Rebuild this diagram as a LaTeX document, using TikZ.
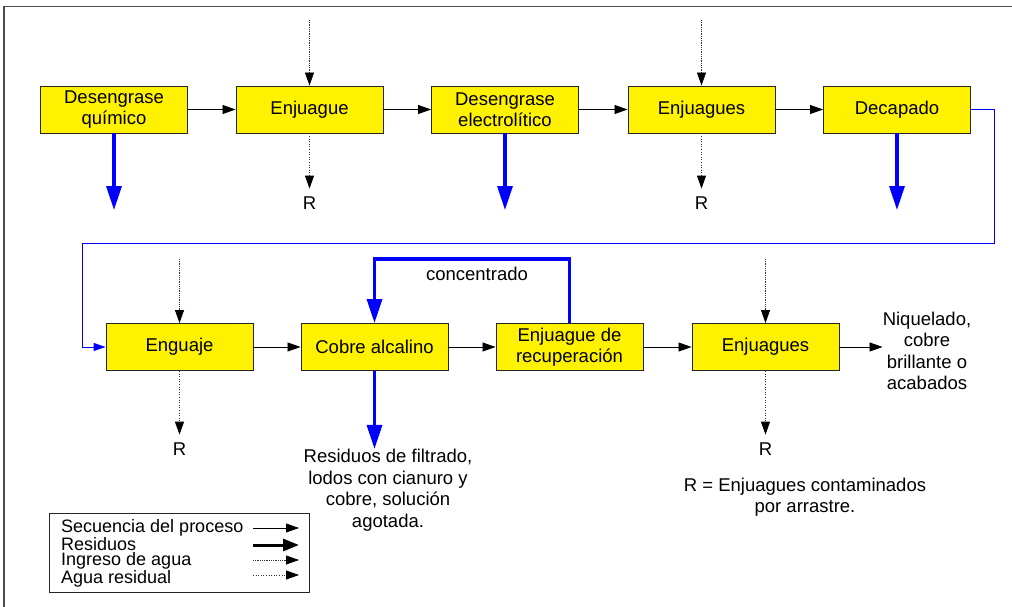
\documentclass[tikz,border=0pt]{standalone}
\usepackage{fontspec}
\setmainfont{Liberation Sans}
\usetikzlibrary{arrows.meta}
\begin{document}
\begin{tikzpicture}[x=1pt,y=-1pt,
  txt/.style={font=\fontsize{18.5}{21.5}\selectfont, inner sep=0pt, align=center},
  proc/.style={txt, draw=black!85, fill=yellow, line width=0.9pt,
    minimum width=147pt, minimum height=47pt},
  seq/.style={black, line width=0.8pt, -{Triangle[length=13pt,width=9pt]}},
  water/.style={black!80, line width=0.8pt, dash pattern=on 1pt off 0.8pt,
    -{Triangle[length=13pt,width=9pt,color=black]}},
  drain/.style={black!80, line width=0.8pt, dash pattern=on 1pt off 1.6pt,
    -{Triangle[length=13pt,width=9pt,color=black]}},
  waste/.style={blue, line width=3.3pt, -{Triangle[length=24pt,width=15pt]}},
  link/.style={blue, line width=1pt, -{Triangle[length=12pt,width=8pt]}},
  rlab/.style={txt, outer sep=8pt}]
\useasboundingbox (0,0) rectangle (1012,607);

% page frame
\draw[black!70, line width=1.5pt] (4,607) -- (4,6.5) -- (1012,6.5);

% first line of the process
\node[proc] (dq)   at (114,109.5)   {Desengrase\\químico};
\node[proc] (enj1) at (309.5,109.5) {Enjuague};
\node[proc] (de)   at (505,109.5)   {Desengrase\\electrolítico};
\node[proc] (enj2) at (701.5,109.5) {Enjuagues};
\node[proc] (dec)  at (897,109.5)   {Decapado};

\draw[seq] (dq) -- (enj1);
\draw[seq] (enj1) -- (de);
\draw[seq] (de) -- (enj2);
\draw[seq] (enj2) -- (dec);

% water in, rinse water out
\coordinate (in1) at (309.5,20);
\coordinate (in2) at (701.5,20);
\draw[water] (in1) -- (enj1.north);
\draw[water] (in2) -- (enj2.north);
\node[rlab] (r1) at (309.5,203) {R};
\node[rlab] (r2) at (701.5,203) {R};
\draw[drain] (enj1.south) -- (r1.north);
\draw[drain] (enj2.south) -- (r2.north);

% spent baths
\coordinate (w1) at (114,210);
\coordinate (w2) at (505,210);
\coordinate (w3) at (897,210);
\draw[waste] (dq.south) -- (w1);
\draw[waste] (de.south) -- (w2);
\draw[waste] (dec.south) -- (w3);

% second line of the process
\node[proc] (engu)  at (179.5,347) {Enguaje};
\node[proc] (cobre) at (374.5,347) {Cobre alcalino};
\node[proc] (recup) at (569.5,347) {Enjuague de\\recuperación};
\node[proc] (enj3)  at (765.5,347) {Enjuagues};

\draw[link] (dec.east) -| (994,243) -| (82,347) -- (engu.west);

\draw[seq] (engu) -- (cobre);
\draw[seq] (cobre) -- (recup);
\draw[seq] (recup) -- (enj3);

\coordinate (in3) at (179.5,259);
\coordinate (in4) at (765.5,259);
\draw[water] (in3) -- (engu.north);
\draw[water] (in4) -- (enj3.north);
\node[rlab] (r3) at (179.5,449) {R};
\node[rlab] (r4) at (765.5,449) {R};
\draw[drain] (engu.south) -- (r3.north);
\draw[drain] (enj3.south) -- (r4.north);

% concentrate returned to the copper bath
\draw[waste] (recup.north) -- ++(0,-64) -| (cobre.north);
\node[txt] (conc) at (477,274) {concentrado};

\node[txt] (res) at (388,490) {Residuos de filtrado,\\lodos con cianuro y\\cobre, solución\\agotada.};
\draw[waste] (cobre.south) -- (cobre.south |- res.north);

\node[txt] (niq) at (927,351) {Niquelado,\\cobre\\brillante o\\acabados};
\draw[seq] (enj3.east) -- (enj3.east -| niq.west);

\node[txt] (rnote) at (805,497) {R = Enjuagues contaminados\\por arrastre.};

% legend
\node[draw=black!85, line width=0.9pt, minimum width=260pt, minimum height=79pt,
  inner sep=0pt] (legend) at (179,552.5) {};
\node[anchor=north west, inner sep=0pt, align=left,
  font=\fontsize{18}{15.5}\selectfont] (legtxt) at (61,519)
  {Secuencia del proceso\\Residuos\\Ingreso de agua\\Agua residual};
\coordinate (la1) at (253,528);   \coordinate (lb1) at (299,528);
\coordinate (la2) at (253,545);   \coordinate (lb2) at (299,545);
\coordinate (la3) at (253,560);   \coordinate (lb3) at (299,560);
\coordinate (la4) at (253,575);   \coordinate (lb4) at (299,575);
\draw[seq] (la1) -- (lb1);
\draw[black, line width=3pt, -{Triangle[length=16pt,width=12pt]}] (la2) -- (lb2);
\draw[water] (la3) -- (lb3);
\draw[drain] (la4) -- (lb4);
\end{tikzpicture}
\end{document}
